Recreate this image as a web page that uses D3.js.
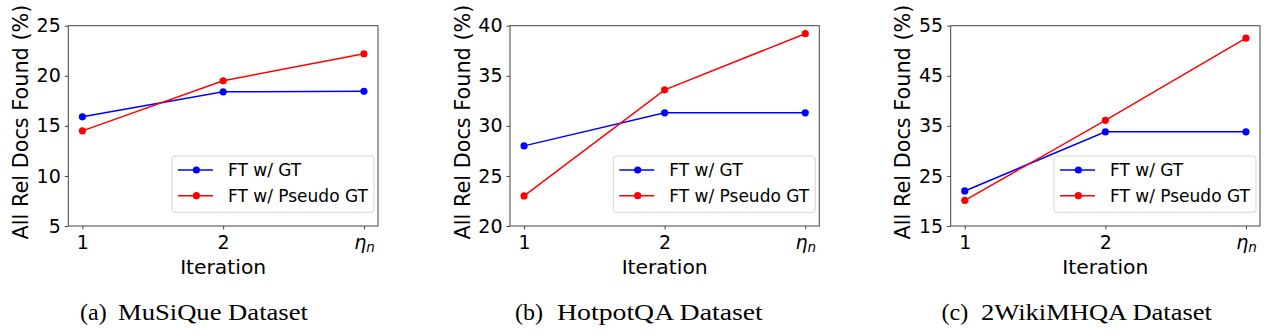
<!DOCTYPE html>
<html>
<head>
<meta charset="utf-8">
<script src="https://cdn.jsdelivr.net/npm/d3@7"></script>
<style>
  html, body { margin: 0; padding: 0; background: #fff; }
  svg { display: block; }
</style>
</head>
<body>
<svg id="chart" width="1280" height="334"></svg>
<script>
// ---- data ----
const iterations = ["1", "2", "ηn"];
const seriesNames = ["FT w/ GT", "FT w/ Pseudo GT"];
const seriesColors = ["#0000ff", "#ff0000"];

const musiqueGT = [15.9, 18.4, 18.45];
const musiquePseudo = [14.5, 19.5, 22.2];
const hotpotGT = [28.0, 31.3, 31.3];
const hotpotPseudo = [23.0, 33.6, 39.2];
const wikiGT = [22.0, 33.8, 33.8];
const wikiPseudo = [20.1, 36.1, 52.5];

const musiqueTicks = [5, 10, 15, 20, 25];
const hotpotTicks = [20, 25, 30, 35, 40];
const wikiTicks = [15, 25, 35, 45, 55];

const captionTags = ["(a)", "(b)", "(c)"];
const captionNames = ["MuSiQue Dataset", "HotpotQA Dataset", "2WikiMHQA Dataset"];

const yLabel = "All Rel Docs Found (%)";
const xLabel = "Iteration";

// ---- layout ----
const panels = [
  { left: 68.3, right: 378, gt: musiqueGT, ps: musiquePseudo, ticks: musiqueTicks,
    capTagX: 80, capX: 118, capEnd: 308 },
  { left: 510, right: 819.3, gt: hotpotGT, ps: hotpotPseudo, ticks: hotpotTicks,
    capTagX: 515, capX: 557, capEnd: 763 },
  { left: 950.7, right: 1260, gt: wikiGT, ps: wikiPseudo, ticks: wikiTicks,
    capTagX: 941.5, capX: 981, capEnd: 1212 }
];
const plotTop = 25.7, plotBottom = 226;
const sans = "'DejaVu Sans', sans-serif";
const serif = "'Liberation Serif', 'Times New Roman', serif";

const svg = d3.select("#chart");

panels.forEach((p, pi) => {
  const g = svg.append("g");
  const x = d3.scaleLinear().domain([-0.1, iterations.length - 1 + 0.1]).range([p.left, p.right]);
  const y = d3.scaleLinear().domain([p.ticks[0], p.ticks[p.ticks.length - 1]]).range([plotBottom, plotTop]);

  // frame
  g.append("rect")
    .attr("x", p.left).attr("y", plotTop)
    .attr("width", p.right - p.left).attr("height", plotBottom - plotTop)
    .attr("fill", "none").attr("stroke", "#444").attr("stroke-width", 1);

  // y axis
  const ya = g.append("g").attr("transform", `translate(${p.left},0)`)
    .call(d3.axisLeft(y).tickValues(p.ticks).tickSize(3.5).tickPadding(4).tickFormat(d3.format("d")));
  ya.select(".domain").remove();
  ya.selectAll(".tick line").attr("stroke", "#444");
  ya.selectAll(".tick text").attr("font-family", sans).attr("font-size", "19px").attr("fill", "#000");

  // x axis
  const xa = g.append("g").attr("transform", `translate(0,${plotBottom})`)
    .call(d3.axisBottom(x).tickValues(d3.range(iterations.length)).tickSize(3.5).tickPadding(6)
      .tickFormat(i => iterations[i]));
  xa.select(".domain").remove();
  xa.selectAll(".tick line").attr("stroke", "#444");
  xa.selectAll(".tick text").attr("font-family", sans).attr("font-size", "19px").attr("fill", "#000")
    .each(function(d) {
      const lab = iterations[d];
      if (lab === "ηn") {
        const t = d3.select(this).text("");
        t.append("tspan").attr("font-style", "italic").text("η");
        t.append("tspan").attr("font-style", "italic").attr("font-size", "13.5px").attr("dy", "3").text("n");
      }
    });

  // axis labels
  g.append("text")
    .attr("x", (p.left + p.right) / 2).attr("y", 274.3)
    .attr("text-anchor", "middle")
    .attr("font-family", sans).attr("font-size", "20.3px").attr("fill", "#000")
    .text(xLabel);
  g.append("text")
    .attr("transform", `translate(${p.left - 40.5},122) rotate(-90)`)
    .attr("text-anchor", "middle")
    .attr("font-family", sans).attr("font-size", "20.8px").attr("fill", "#000")
    .text(yLabel);

  // lines
  const line = d3.line().x((d, i) => x(i)).y(d => y(d));
  [p.gt, p.ps].forEach((vals, si) => {
    g.append("path").datum(vals)
      .attr("d", line).attr("fill", "none")
      .attr("stroke", seriesColors[si]).attr("stroke-width", 1.5);
    g.selectAll(null).data(vals).enter().append("circle")
      .attr("cx", (d, i) => x(i)).attr("cy", d => y(d)).attr("r", 3.6)
      .attr("fill", seriesColors[si]);
  });

  // legend
  const lw = 202, lh = 56.3;
  const lx = p.right - 4 - lw, ly = plotBottom - 13.7 - lh;
  const lg = g.append("g").attr("transform", `translate(${lx},${ly})`);
  lg.append("rect").attr("width", lw).attr("height", lh).attr("rx", 3)
    .attr("fill", "#fff").attr("fill-opacity", 0.8).attr("stroke", "#d4d4d4").attr("stroke-width", 1);
  seriesNames.forEach((name, si) => {
    const ry = 14 + si * 25.7;
    lg.append("line").attr("x1", 6).attr("x2", 41).attr("y1", ry).attr("y2", ry)
      .attr("stroke", seriesColors[si]).attr("stroke-width", 1.5);
    lg.append("circle").attr("cx", 24.4).attr("cy", ry).attr("r", 3.6).attr("fill", seriesColors[si]);
    lg.append("text").attr("x", 56).attr("y", ry).attr("dy", "0.36em")
      .attr("font-family", sans).attr("font-size", "17px").attr("fill", "#000")
      .text(name);
  });

  // caption (glyphs stretched horizontally to match the reference)
  const nameText = svg.append("text").attr("x", 0).attr("y", 0)
    .attr("font-family", serif).attr("font-size", "24px").attr("fill", "#000")
    .text(captionNames[pi]);
  const natural = nameText.node().getComputedTextLength();
  const sx = (p.capEnd - p.capX) / natural;
  nameText.attr("transform", `translate(${p.capX},320) scale(${sx},1)`);
  svg.append("text").attr("x", 0).attr("y", 0)
    .attr("font-family", serif).attr("font-size", "24px").attr("fill", "#000")
    .attr("transform", `translate(${p.capTagX},320)`)
    .text(captionTags[pi]);
});
</script>
</body>
</html>
